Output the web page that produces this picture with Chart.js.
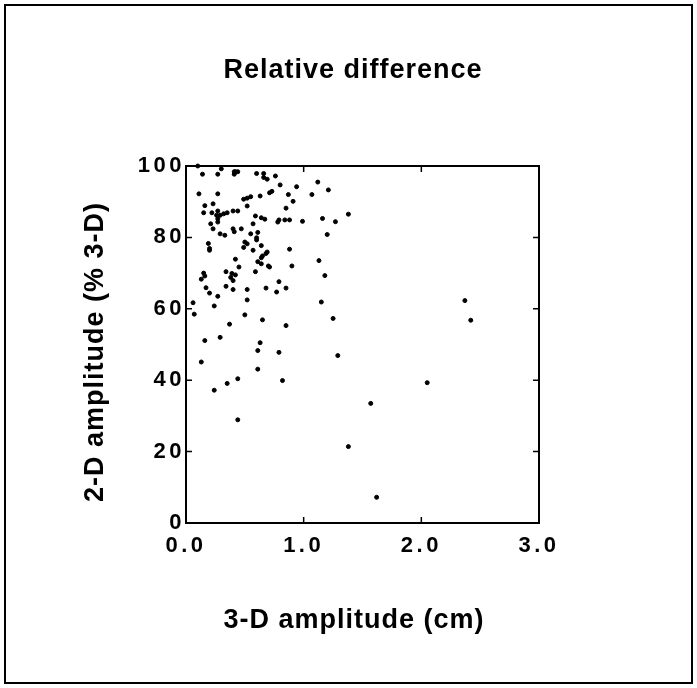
<!DOCTYPE html>
<html lang="en">
<head>
    <meta charset="UTF-8">
    <title>Relative difference</title>
    <style>
        body { margin: 0; background: #fff; }
        #wrap { width: 697px; height: 688px; }
    </style>
</head>
<body>
    <div id="wrap"><canvas id="scatter" width="697" height="688"></canvas></div>
    <script src="https://cdn.jsdelivr.net/npm/chart.js"></script>
    <script>
        // Ma'lumotlar (rasmdan o'qilgan)
        const chartTitle = 'Relative difference';
        const xTitle = '3-D amplitude (cm)';
        const yTitle = '2-D amplitude (% 3-D)';
        const xTicks = [0, 1, 2, 3];
        const yTicks = [0, 20, 40, 60, 80, 100];

        const amp3d = [
            0.10, 0.14, 0.27, 0.30, 0.41, 0.42, 0.44, 0.41, 0.60, 0.66, 0.66, 0.69, 0.76, 0.80, 0.94, 1.12, 1.21,
            0.11, 0.27, 0.49, 0.52, 0.55, 0.63, 0.71, 0.73, 0.87, 1.07, 0.91, 0.16, 0.23, 0.52, 0.85,
            0.15, 0.22, 0.27, 0.26, 0.29, 0.32, 0.35, 0.40, 0.44, 0.27, 0.27, 0.59, 0.64, 0.67, 0.78, 0.79,
            0.84, 0.88, 0.99, 1.16, 1.27, 1.38, 0.21, 0.23, 0.57, 0.40, 0.41, 0.47, 0.29, 0.33, 0.55, 0.61,
            0.60, 0.60, 1.20, 0.19, 0.20, 0.20, 0.50, 0.52, 0.49, 0.57, 0.64, 0.68, 0.69, 0.65, 0.64, 0.88,
            0.42, 0.61, 0.64, 0.70, 0.71, 0.90, 1.13, 0.45, 0.59, 0.34, 0.15, 0.16, 0.13, 0.39, 0.42, 0.38,
            0.40, 1.18, 0.79, 0.17, 0.20, 0.34, 0.40, 0.52, 0.68, 0.77, 0.85, 0.27, 0.52, 0.06, 0.07, 0.24,
            1.15, 0.50, 0.65, 1.25, 0.37, 0.85, 0.29, 0.16, 0.63, 0.61, 0.79, 1.29, 0.13, 0.61, 0.44, 0.35,
            0.24, 0.82, 1.57, 0.44, 1.38, 1.62, 2.37, 2.42, 2.05
        ];
        const relDiff = [
            100.0, 97.7, 97.7, 99.2, 98.4, 98.4, 98.4, 97.7, 97.9, 97.9, 96.8, 96.3, 97.2, 94.7, 94.2, 95.5, 93.3,
            92.2, 92.2, 90.7, 91.0, 91.4, 91.6, 92.5, 92.9, 92.0, 92.0, 90.1, 88.9, 89.4, 88.8, 88.2,
            86.9, 86.9, 87.4, 86.2, 86.2, 86.6, 86.9, 87.4, 87.4, 85.2, 84.3, 86.0, 85.5, 85.1, 84.3, 84.9,
            84.9, 84.9, 84.5, 85.3, 84.4, 86.5, 83.8, 82.4, 83.8, 82.4, 81.6, 82.4, 81.0, 80.6, 81.0, 81.4,
            79.9, 79.3, 80.8, 78.3, 76.9, 76.4, 78.7, 78.2, 77.2, 76.4, 77.7, 75.5, 75.9, 74.8, 74.3, 76.7,
            73.9, 73.2, 72.6, 72.0, 71.7, 72.0, 73.5, 71.7, 70.4, 70.4, 70.0, 69.2, 68.3, 69.9, 69.5, 68.8,
            67.9, 69.3, 67.6, 65.9, 64.4, 66.3, 65.4, 65.4, 65.8, 64.7, 65.8, 63.5, 62.5, 61.7, 58.5, 60.8,
            61.9, 58.3, 56.9, 57.3, 55.7, 55.3, 52.0, 51.1, 50.5, 48.3, 47.8, 46.9, 45.1, 43.1, 40.4, 39.1,
            37.2, 39.9, 33.5, 28.9, 21.4, 7.2, 62.3, 56.8, 39.3
        ];

        const points = amp3d.map((x, i) => ({ x: x, y: relDiff[i] }));

        // Ramka, ichki chiziqchalar va sarlavhalar
        const framePlugin = {
            id: 'frame',
            beforeDraw(chart) {
                chart.ctx.letterSpacing = '3.5px';
            },
            afterDraw(chart) {
                const { ctx, chartArea: a, scales: { x, y } } = chart;
                ctx.save();
                ctx.letterSpacing = '0px';
                ctx.strokeStyle = '#000';
                ctx.lineWidth = 2;
                ctx.strokeRect(a.left, a.top, a.right - a.left, a.bottom - a.top);

                ctx.lineWidth = 1.5;
                ctx.beginPath();
                x.ticks.forEach(t => {
                    const px = x.getPixelForValue(t.value);
                    ctx.moveTo(px, a.bottom); ctx.lineTo(px, a.bottom - 6);
                    ctx.moveTo(px, a.top); ctx.lineTo(px, a.top + 6);
                });
                y.ticks.forEach(t => {
                    const py = y.getPixelForValue(t.value);
                    ctx.moveTo(a.left, py); ctx.lineTo(a.left + 6, py);
                    ctx.moveTo(a.right, py); ctx.lineTo(a.right - 6, py);
                });
                ctx.stroke();

                // tashqi ramka
                ctx.lineWidth = 2;
                ctx.strokeRect(5, 5, 687, 678);

                ctx.fillStyle = '#000';
                ctx.font = 'bold 27px "Liberation Sans", Arial, sans-serif';
                ctx.letterSpacing = '1px';
                ctx.textAlign = 'center';
                ctx.textBaseline = 'middle';
                ctx.fillText(chartTitle, 353, 71);
                ctx.fillText(xTitle, 354, 621);
                ctx.translate(96, 352);
                ctx.rotate(-Math.PI / 2);
                ctx.fillText(yTitle, 0, 0);
                ctx.restore();
            }
        };

        const tickFont = { family: '"Liberation Sans", Arial, sans-serif', size: 22, weight: 'bold' };

        new Chart(document.getElementById('scatter'), {
            type: 'scatter',
            data: {
                datasets: [{
                    data: points,
                    backgroundColor: '#000',
                    borderColor: '#000',
                    pointRadius: 2,
                    pointHoverRadius: 2,
                    clip: false
                }]
            },
            options: {
                responsive: false,
                animation: false,
                layout: { padding: { left: 0, right: 158, top: 166, bottom: 0 } },
                plugins: {
                    legend: { display: false },
                    title: { display: false },
                    tooltip: { enabled: false }
                },
                scales: {
                    x: {
                        type: 'linear',
                        min: 0,
                        max: 3,
                        afterFit: s => { s.height = 165; },
                        afterBuildTicks: s => { s.ticks = xTicks.map(v => ({ value: v })); },
                        grid: { display: false, drawTicks: false },
                        border: { display: false },
                        ticks: {
                            color: '#000',
                            font: tickFont,
                            padding: 10,
                            maxRotation: 0,
                            callback: v => v.toFixed(1)
                        }
                    },
                    y: {
                        type: 'linear',
                        min: 0,
                        max: 100,
                        afterFit: s => { s.width = 186; },
                        afterBuildTicks: s => { s.ticks = yTicks.map(v => ({ value: v })); },
                        grid: { display: false, drawTicks: false },
                        border: { display: false },
                        ticks: {
                            color: '#000',
                            font: tickFont,
                            padding: 1
                        }
                    }
                }
            },
            plugins: [framePlugin]
        });
    </script>
</body>
</html>
